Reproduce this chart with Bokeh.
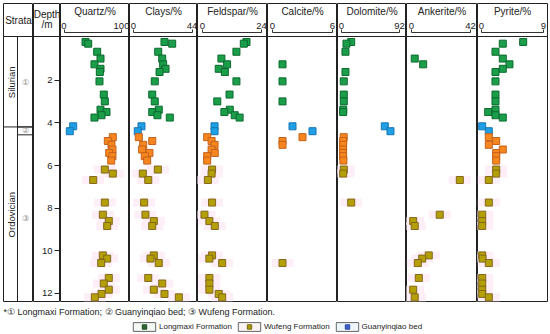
import math
from bokeh.plotting import figure
from bokeh.models import (ColumnDataSource, Range1d, LinearAxis, FixedTicker, Span,
                          Label, Legend, LegendItem)
from bokeh.layouts import row, column
from bokeh.embed import file_html
from bokeh.resources import INLINE

nan = float("nan")

# ---------------- data ----------------
minerals = ["Quartz", "Clays", "Feldspar", "Calcite", "Dolomite", "Ankerite", "Pyrite"]
mineral_max = [100, 44, 24, 6, 92, 42, 9]
depth_ticks = [2, 4, 6, 8, 10, 12]

strata_names = ["Silurian", "Ordovician"]
strata_top = [0.0, 4.19]
strata_bottom = [4.19, 12.43]
formation_labels = ["\u2460", "\u2461", "\u2462"]
formation_top = [0.0, 4.19, 4.56]
formation_bottom = [4.19, 4.56, 12.43]

# Longmaxi Formation (green)
longmaxi_depth = [0.20, 0.28, 0.66, 0.98, 1.25, 1.46, 1.61, 2.05, 2.67, 2.99, 3.38, 3.49, 3.64, 3.75]
longmaxi_quartz = [37.4, 42.1, 57.7, 63.5, 53.0, 63.5, 62.3, 61.7, 69.2, 71.0, 63.5, 73.9, 65.2, 53.0]
longmaxi_clays = [23.3, 29.1, 18.6, 21.6, 22.3, 24.1, 19.6, 16.0, 14.1, 16.0, 19.0, 14.1, 18.0, 27.3]
longmaxi_feldspar = [17.9, 16.8, 13.8, 7.7, 10.0, 6.6, 9.1, 13.8, 11.0, 6.0, 11.1, 8.9, 13.1, 15.1]
longmaxi_calcite = [nan, nan, nan, nan, 1.0, nan, nan, 1.0, nan, 1.0, nan, nan, nan, nan]
longmaxi_dolomite = [15.4, 7.9, 6.3, nan, nan, nan, 6.3, 3.6, 3.6, 3.6, 2.7, 2.7, nan, nan]
longmaxi_ankerite = [nan, nan, nan, 2.3, 8.3, nan, nan, nan, nan, nan, nan, nan, nan, nan]
longmaxi_pyrite = [6.05, 3.09, 2.03, 3.09, 4.06, 3.09, 2.03, 2.03, 2.03, 2.03, 2.03, 0.97, 2.03, 3.09]

# Guanyinqiao bed (blue)
guanyinqiao_depth = [4.16, 4.39]
guanyinqiao_quartz = [16.0, 10.1]
guanyinqiao_clays = [6.0, 3.2]
guanyinqiao_feldspar = [4.9, 4.9]
guanyinqiao_calcite = [2.0, 4.0]
guanyinqiao_dolomite = [68.7, 77.7]
guanyinqiao_ankerite = [nan, nan]
guanyinqiao_pyrite = [0.1, 1.06]

# Wufeng Formation, upper samples (orange)
wufeng_upper_depth = [4.67, 4.85, 5.03, 5.25, 5.41, 5.56, 5.77]
wufeng_upper_quartz = [84.9, 76.2, 82.6, 84.3, 78.6, 84.3, 82.1]
wufeng_upper_clays = [4.0, 14.1, 7.3, 6.5, 12.0, 8.5, 10.3]
wufeng_upper_feldspar = [1.9, 3.7, 4.9, 3.7, 5.0, 1.9, 1.9]
wufeng_upper_calcite = [3.0, 1.0, 1.0, nan, nan, nan, nan]
wufeng_upper_dolomite = [3.5, 2.7, 2.5, 2.5, 2.5, 2.5, 3.0]
wufeng_upper_ankerite = [nan, nan, nan, nan, nan, nan, nan]
wufeng_upper_pyrite = [1.06, 2.13, 1.06, 3.09, 2.13, 2.13, 2.13]

# Wufeng Formation (olive)
wufeng_depth = [6.19, 6.38, 6.68, 7.74, 8.31, 8.61, 8.84, 10.22, 10.37, 10.58, 11.28, 11.54, 11.83, 12.03, 12.19]
wufeng_quartz = [71.0, 84.9, 50.8, 71.0, 67.5, 77.9, 75.1, 67.5, 75.1, 64.7, 77.9, 69.2, 77.9, 65.2, 53.6]
wufeng_clays = [18.3, 7.0, 11.1, 8.0, 9.0, 15.3, 14.1, 15.3, 12.8, 19.0, 11.1, 21.6, 15.3, 23.3, 34.1]
wufeng_feldspar = [3.9, 3.7, 2.2, 3.9, 0.8, 2.8, 5.0, 3.9, 2.8, 8.0, 2.8, 2.8, 2.8, 6.6, 8.0]
wufeng_calcite = [nan, nan, nan, nan, nan, nan, nan, nan, nan, 1.0, nan, nan, nan, nan, nan]
wufeng_dolomite = [3.6, 2.7, nan, 15.4, nan, nan, nan, nan, nan, nan, nan, nan, nan, nan, nan]
wufeng_ankerite = [nan, nan, 34.4, nan, 20.1, 1.2, 2.3, 12.3, 7.6, 4.5, 5.2, nan, 1.2, nan, 2.3]
wufeng_pyrite = [2.13, 2.13, 1.06, 1.06, 0.1, 0.1, 0.1, 0.1, 0.15, 1.06, 0.1, 0.1, 0.1, 0.1, 1.06]

footnote = "*\u2460 Longmaxi Formation; \u2461 Guanyinqiao bed; \u2462 Wufeng Formation."
legend_labels = ["Longmaxi Formation", "Wufeng Formation", "Guanyinqiao bed"]

# ---------------- layout / styling ----------------
FONT = "Liberation Sans"
LINE = "#222222"
PAGE_W, PAGE_H = 550, 334
TABLE_TOP, TABLE_BOTTOM = 3, 302          # page pixels
DEPTH0_PX, PPM = 37.2, 21.3               # depth 0 position, pixels per metre
col_edges = [3, 33, 60, 129, 197, 267, 337, 406, 477, 547]
# bracket (scale bar) ends in page pixels for each mineral column
bracket_px = [(63.5, 121), (133, 191.5), (202, 261), (272, 332), (341, 399), (411, 470), (481, 543)]

Y_TOP = (TABLE_TOP - DEPTH0_PX) / PPM
Y_BOT = (TABLE_BOTTOM - DEPTH0_PX) / PPM
FOOT_H = PAGE_H - TABLE_BOTTOM


def py(page_y):
    """page pixel row -> depth coordinate (used for header furniture)"""
    return (page_y - DEPTH0_PX) / PPM


def make_source(depth, q, c, f, ca, d, a, pyr):
    return ColumnDataSource(dict(depth=depth, Quartz=q, Clays=c, Feldspar=f, Calcite=ca,
                                 Dolomite=d, Ankerite=a, Pyrite=pyr))


groups = [
    (make_source(longmaxi_depth, longmaxi_quartz, longmaxi_clays, longmaxi_feldspar,
                 longmaxi_calcite, longmaxi_dolomite, longmaxi_ankerite, longmaxi_pyrite),
     "#1a9e4a", "#0d6a2f", False),
    (make_source(guanyinqiao_depth, guanyinqiao_quartz, guanyinqiao_clays, guanyinqiao_feldspar,
                 guanyinqiao_calcite, guanyinqiao_dolomite, guanyinqiao_ankerite, guanyinqiao_pyrite),
     "#1f9fe4", "#1775b5", False),
    (make_source(wufeng_upper_depth, wufeng_upper_quartz, wufeng_upper_clays, wufeng_upper_feldspar,
                 wufeng_upper_calcite, wufeng_upper_dolomite, wufeng_upper_ankerite, wufeng_upper_pyrite),
     "#f7861f", "#c3621c", False),
    (make_source(wufeng_depth, wufeng_quartz, wufeng_clays, wufeng_feldspar,
                 wufeng_calcite, wufeng_dolomite, wufeng_ankerite, wufeng_pyrite),
     "#b2a006", "#86661e", True),
]


def base_fig(w, xr, left=0, right=0):
    p = figure(width=w + left + right, height=TABLE_BOTTOM, x_range=xr,
               y_range=Range1d(Y_BOT, Y_TOP), x_axis_location=None, y_axis_location=None,
               output_backend="svg", toolbar_location=None, min_border=0, title=None)
    p.min_border_left = left
    p.min_border_right = right
    p.min_border_top = TABLE_TOP
    p.min_border_bottom = 0
    p.grid.visible = False
    p.outline_line_color = LINE
    p.outline_line_width = 1
    p.background_fill_color = "white"
    p.border_fill_color = "white"
    p.add_layout(Span(location=py(36), dimension="width", line_color=LINE, line_width=1))
    return p


def label(p, x, y, text, size="10px", color="#222222", align="center", angle=0):
    p.add_layout(Label(x=x, y=y, text=text, text_font=FONT, text_font_size=size,
                       text_color=color, text_align=align, text_baseline="middle",
                       angle=angle, angle_units="deg"))


figs = []

# Strata column
DIV = 14.0 / 30.0
ps = base_fig(col_edges[1] - col_edges[0], Range1d(0, 1), left=col_edges[0])
label(ps, 0.5, py(19.5), "Strata")
ps.segment(x0=[DIV], y0=[py(36)], x1=[DIV], y1=[Y_BOT], line_color=LINE, line_width=1)
for b in strata_bottom[:-1]:
    ps.add_layout(Span(location=b, dimension="width", line_color=LINE, line_width=1))
ps.segment(x0=[DIV] * (len(formation_bottom) - 1), y0=formation_bottom[:-1],
           x1=[1] * (len(formation_bottom) - 1), y1=formation_bottom[:-1],
           line_color=LINE, line_width=1)
for n, t, b in zip(strata_names, strata_top, strata_bottom):
    label(ps, DIV / 2 + 0.02, (t + b) / 2, n, size="9.5px", angle=90)
for n, t, b in zip(formation_labels, formation_top, formation_bottom):
    label(ps, (DIV + 1) / 2, (t + b) / 2, n, size="8px", color="#8a8a8a")
figs.append(ps)

# Depth column
pdp = base_fig(col_edges[2] - col_edges[1], Range1d(0, 1))
label(pdp, 0.5, py(14), "Depth")
label(pdp, 0.5, py(23.5), "/m")
dax = LinearAxis(fixed_location=1.0, ticker=FixedTicker(ticks=depth_ticks),
                 major_tick_out=6, major_tick_in=0, minor_tick_line_color=None,
                 axis_line_color=None, major_tick_line_color=LINE,
                 major_label_text_font=FONT, major_label_text_font_size="9.5px",
                 major_label_text_color="#222222", major_label_standoff=2)
pdp.add_layout(dax, "left")
figs.append(pdp)

# Mineral columns
for i, (m, mx) in enumerate(zip(minerals, mineral_max)):
    x0c, x1c = col_edges[i + 2], col_edges[i + 3]
    b0, b1 = bracket_px[i]
    k = mx / (b1 - b0)
    xr = Range1d((x0c - b0) * k, (x1c - b0) * k)
    right = PAGE_W - col_edges[-1] if i == len(minerals) - 1 else 0
    p = base_fig(x1c - x0c, xr, right=right)
    label(p, (xr.start + xr.end) / 2, py(11), m + "/%")
    ax = LinearAxis(fixed_location=py(31.7), ticker=FixedTicker(ticks=[0, mx]),
                    bounds=(0, mx), major_tick_out=3, major_tick_in=0,
                    minor_tick_line_color=None, axis_line_color="#333333",
                    major_tick_line_color="#333333", major_label_text_font=FONT,
                    major_label_text_font_size="9.5px", major_label_text_color="#222222",
                    major_label_standoff=0)
    p.add_layout(ax, "above")
    for src, fc, lc, glow in groups:
        if glow:
            p.rect(x=m, y="depth", width=22, height=8, width_units="screen",
                   height_units="screen", source=src, fill_color="#fdeef8",
                   line_color=None)
    for src, fc, lc, glow in groups:
        p.scatter(x=m, y="depth", source=src, marker="square", size=7,
                  fill_color=fc, line_color=lc, line_width=1)
    figs.append(p)

# Footer: footnote + legend
foot = figure(width=PAGE_W, height=FOOT_H, x_range=Range1d(0, PAGE_W),
              y_range=Range1d(FOOT_H, 0), x_axis_location=None, y_axis_location=None,
              output_backend="svg", toolbar_location=None, min_border=0, title=None)
foot.min_border_left = foot.min_border_right = foot.min_border_top = foot.min_border_bottom = 0
foot.grid.visible = False
foot.outline_line_color = None
foot.background_fill_color = "white"
foot.border_fill_color = "white"
foot.add_layout(Label(x=3, y=9.5, text=footnote, text_font=FONT, text_font_size="9px",
                      text_color="#222222", text_baseline="middle"))

legend_box_fill = ["#f3f8f3", "#fbf3f1", "#edf7fb"]
legend_sq_fill = ["#2f6a36", "#a8980c", "#3d62d6"]
legend_sq_line = ["#1e4a24", "#7a6a10", "#2a45a0"]
items = []
for lab, bf, sf, sl in zip(legend_labels, legend_box_fill, legend_sq_fill, legend_sq_line):
    rb = foot.rect(x=[0], y=[0], width=[1], height=[1], fill_color=bf,
                   line_color="#666666", line_width=1, visible=False)
    rs = foot.scatter(x=[0], y=[0], marker="square", size=5, fill_color=sf,
                      line_color=sl, line_width=1, visible=False)
    items.append(LegendItem(label=lab, renderers=[rb, rs]))
leg = Legend(items=items, orientation="horizontal", location=(130, 2.5),
             glyph_width=28, glyph_height=11, label_height=11, label_standoff=1,
             spacing=3, padding=0, margin=0, border_line_color=None,
             background_fill_alpha=0, label_text_font=FONT, label_text_font_size="8px",
             label_text_color="#222222", click_policy="none")
foot.add_layout(leg)

layout = column(row(*figs, spacing=0), foot, spacing=0)
open("out.html", "w").write(file_html(layout, INLINE))
